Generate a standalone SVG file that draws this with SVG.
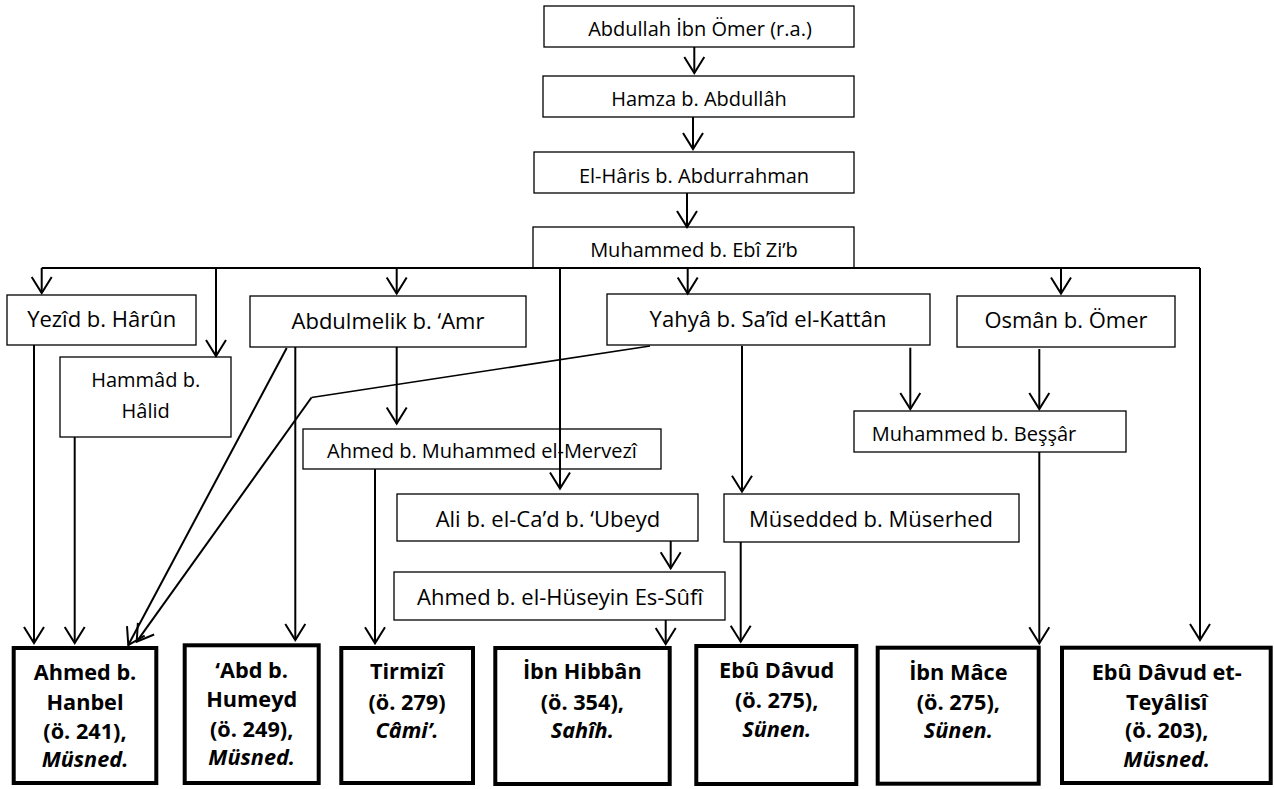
<svg xmlns="http://www.w3.org/2000/svg" width="1274" height="789" viewBox="0 0 1274 789">
<style>
.b{fill:#fff;stroke:#000;stroke-width:1.3}
.k{fill:#fff;stroke:#000;stroke-width:4}
.t{font-family:"Open Sans","Noto Sans","Liberation Sans",sans-serif;font-size:20px;fill:#000;text-anchor:middle}
.L{font-size:22px}
.s{font-family:"Open Sans","Noto Sans","Liberation Sans",sans-serif;font-size:21.7px;font-weight:bold;fill:#000;text-anchor:middle}
.i{font-style:italic}
.c{fill:none;stroke:#000;stroke-width:2}
.a{marker-end:url(#arr)}
</style>
<defs>
<marker id="arr" markerUnits="userSpaceOnUse" viewBox="-18 -12 20 24" markerWidth="20" markerHeight="24" refX="0" refY="0" orient="auto">
<path d="M-16,-10 L0,0 L-16,10" fill="none" stroke="#000" stroke-width="2"/>
</marker>
</defs>
<rect width="1274" height="789" fill="#fff"/>
<g id="n-abdullah"><rect class="b" x="544" y="6" width="310" height="41"/><text class="t" x="700" y="36">Abdullah İbn Ömer (r.a.)</text></g>
<g id="n-hamza"><rect class="b" x="543" y="76" width="311" height="41"/><text class="t" x="699" y="106">Hamza b. Abdullâh</text></g>
<g id="n-haris"><rect class="b" x="534" y="152" width="320" height="41"/><text class="t" x="694" y="182.5">El-Hâris b. Abdurrahman</text></g>
<g id="n-muhammed-zib"><rect class="b" x="533" y="227" width="321" height="41"/><text class="t" x="694" y="257">Muhammed b. Ebî Zi’b</text></g>
<g id="n-yezid"><rect class="b" x="7" y="295" width="189" height="50"/><text class="t L" x="101.7" y="327">Yezîd b. Hârûn</text></g>
<g id="n-hammad"><rect class="b" x="60" y="357" width="171" height="80"/><text class="t" x="145.7" y="387">Hammâd b.</text><text class="t" x="145.7" y="417.5">Hâlid</text></g>
<g id="n-abdulmelik"><rect class="b" x="250" y="296" width="276" height="51"/><text class="t L" x="388" y="329">Abdulmelik b. ‘Amr</text></g>
<g id="n-yahya"><rect class="b" x="607" y="294" width="323" height="51"/><text class="t L" x="768" y="327">Yahyâ b. Sa’îd el-Kattân</text></g>
<g id="n-osman"><rect class="b" x="957" y="296" width="218" height="51"/><text class="t L" x="1066" y="328">Osmân b. Ömer</text></g>
<g id="n-mervezi"><rect class="b" x="303" y="429" width="358" height="40"/><text class="t" x="482" y="458">Ahmed b. Muhammed el-Mervezî</text></g>
<g id="n-bessar"><rect class="b" x="854" y="411" width="272" height="41"/><text class="t" x="974" y="441">Muhammed b. Beşşâr</text></g>
<g id="n-ali"><rect class="b" x="397" y="494" width="301" height="47"/><text class="t L" x="548" y="527">Ali b. el-Ca’d b. ‘Ubeyd</text></g>
<g id="n-musedded"><rect class="b" x="724" y="494" width="295" height="48"/><text class="t L" x="871" y="527">Müsedded b. Müserhed</text></g>
<g id="n-huseyin"><rect class="b" x="394" y="572" width="331" height="48"/><text class="t L" x="560" y="605">Ahmed b. el-Hüseyin Es-Sûfî</text></g>
<g id="n-hanbel"><rect class="k" x="13.7" y="648" width="142.6" height="135"/><text class="s" x="85" y="680">Ahmed b.</text><text class="s" x="85" y="710">Hanbel</text><text class="s" x="85" y="738.5">(ö. 241),</text><text class="s i" x="85" y="767">Müsned.</text></g>
<g id="n-humeyd"><rect class="k" x="184.7" y="645.3" width="134" height="137.7"/><text class="s" x="251.7" y="678.3">‘Abd b.</text><text class="s" x="251.7" y="706.7">Humeyd</text><text class="s" x="251.7" y="736.7">(ö. 249),</text><text class="s i" x="251.7" y="765">Müsned.</text></g>
<g id="n-tirmizi"><rect class="k" x="341.3" y="648" width="131.7" height="135"/><text class="s" x="407" y="679.3">Tirmizî</text><text class="s" x="407" y="710">(ö. 279)</text><text class="s i" x="407" y="738.3">Câmi’.</text></g>
<g id="n-hibban"><rect class="k" x="495.3" y="648" width="174.4" height="136"/><text class="s" x="582.3" y="679.3">İbn Hibbân</text><text class="s" x="582.3" y="710">(ö. 354),</text><text class="s i" x="582.3" y="738.3">Sahîh.</text></g>
<g id="n-ebudavud"><rect class="k" x="696.3" y="646" width="160" height="138"/><text class="s" x="776.7" y="678.3">Ebû Dâvud</text><text class="s" x="776.7" y="708.3">(ö. 275),</text><text class="s i" x="776.7" y="736.7">Sünen.</text></g>
<g id="n-ibnmace"><rect class="k" x="877.7" y="647.7" width="161" height="136"/><text class="s" x="958.3" y="680">İbn Mâce</text><text class="s" x="958.3" y="710">(ö. 275),</text><text class="s i" x="958.3" y="738.3">Sünen.</text></g>
<g id="n-teyalisi"><rect class="k" x="1062" y="647.7" width="208.7" height="135.3"/><text class="s" x="1166.7" y="680">Ebû Dâvud et-</text><text class="s" x="1166.7" y="710">Teyâlisî</text><text class="s" x="1166.7" y="738.3">(ö. 203),</text><text class="s i" x="1166.7" y="766.7">Müsned.</text></g>
<g id="connectors">
<path class="c a" d="M694.3,47 V73"/>
<path class="c a" d="M693,117 V149"/>
<path class="c a" d="M687,193 V227"/>
<path class="c" d="M41.7,268 H1200"/>
<path class="c a" d="M41.7,268 V293"/>
<path class="c a" d="M216,268 V356"/>
<path class="c a" d="M396.7,268 V293.5"/>
<path class="c a" d="M560,268 V488.5"/>
<path class="c a" d="M687.7,268 V293.5"/>
<path class="c a" d="M1061,268 V293.5"/>
<path class="c a" d="M1200,268 V640"/>
<path class="c a" d="M34,345 V643"/>
<path class="c a" d="M74.7,437 V643"/>
<path class="c a" d="M286.7,348 L128.3,645"/>
<path class="c a" d="M295.3,347 V640"/>
<path class="c a" d="M396.7,347 V423.5"/>
<path class="c" style="stroke-width:1.6" d="M650,346 L311.5,397.5"/>
<path class="c a" d="M311.5,397.5 L136.7,641.7"/>
<path class="c a" d="M742,346 V491.7"/>
<path class="c a" d="M910.3,347.7 V409"/>
<path class="c a" d="M1039.3,349 V409"/>
<path class="c a" d="M1039.3,452 V643.3"/>
<path class="c a" d="M375,469 V643.3"/>
<path class="c a" d="M670.7,541 V568.3"/>
<path class="c a" d="M665.7,620 V644"/>
<path class="c a" d="M740.7,542 V641.7"/>
</g>
</svg>
